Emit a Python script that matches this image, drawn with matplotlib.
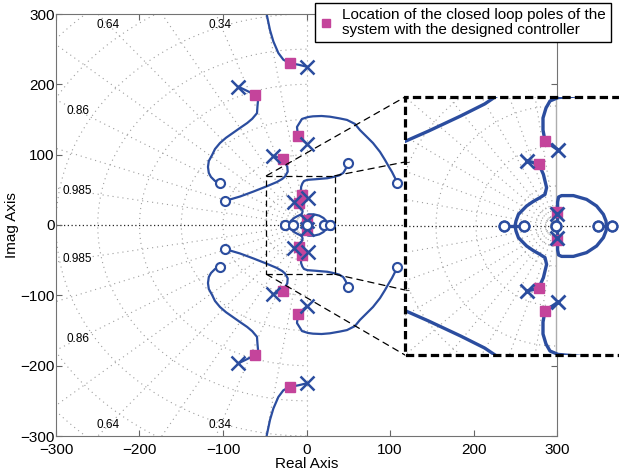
import numpy as np
import matplotlib
matplotlib.use('Agg')
import matplotlib.pyplot as plt
from matplotlib.patches import Rectangle, ConnectionPatch
from matplotlib.lines import Line2D

plt.rcParams['font.family'] = ['Liberation Sans', 'DejaVu Sans']

# ---------------- data (upper half plane; lower half is the mirror image) ----------------
branch_a_re = [0.6, -10, -19.8, -27.7, -33.7, -39.7, -43.7, -47.6, -49.5]
branch_a_im = [225, 228, 230, 235, 244.5, 261, 277, 299, 315]

branch_b_re = [-81.7, -71, -61.7, -58, -58.7, -59.3, -65, -71, -79.6, -88, -96.4, -103.6,
               -109.6, -113, -117, -118, -117, -114.4, -109.6, -103.6]
branch_b_im = [196.7, 190.6, 185, 178, 169, 159, 151, 145, 138, 131, 124, 116.6,
               108, 99.6, 91, 82.5, 74, 68.3, 62.6, 59.7]

branch_c_re = [-40.5, -34, -28.5, -23, -22.5, -25.7, -29, -35.7, -47.7, -63.7, -79.6, -89.6, -97.6]
branch_c_im = [98.6, 96, 93.9, 83, 75.8, 69, 65.5, 61, 55, 47.5, 40.5, 37, 34.6]

branch_d_re = [0.6, -5, -10.2, -11.4, -5.4, 1.8, 7.8, 18, 28, 40, 48.5, 58, 64, 72.5, 79.6,
               88, 94, 98.8, 102.4, 106, 108.4]
branch_d_im = [115.2, 121, 126.6, 139.4, 150.8, 153.5, 154.5, 155, 154, 151.5, 149.4, 143.7, 135,
               125, 116.6, 104, 92.5, 82.5, 75.4, 66.9, 59.7]

branch_e_re = [1.2, -5.5, -6.5, -6.5, -5, -3, 1, 10, 25, 33, 39, 44, 47, 49.3]
branch_e_im = [38, 42.5, 48, 54, 59, 62.5, 64.2, 65, 66.5, 68.5, 70.5, 74, 80, 87.8]

branch_f_re = [-14.7, -11.5, -8.5, -6.3, -4.7, -5.5, -8, -11.5, -14.7, -18.8, -20, -20.5]
branch_f_im = [32.5, 31.8, 30.8, 25.8, 19.2, 15.8, 14.2, 12.2, 10, 5.8, 2.5, 0]

branch_h_re = [0.8, 0.8, 0.8, 1.3, 2.8, 8.7, 15.3, 20.3, 23.7, 25, 25.2]
branch_h_im = [0, 5.8, 12, 14.5, 15.2, 15.2, 13.3, 10, 5.8, 2.5, 0]

real_seg1_re = [-26, -15.8]
real_seg2_re = [20.8, 27.8]

pole_re = [0.6, -81.7, -40.5, 0.6, 1.2, -14.7, 0.3]
pole_im = [225, 196.7, 98.6, 115.2, 38, 32.5, 5.8]

zero_re = [-103.6, -97.6, 108.4, 49.3, -26, -15.8, 20.8, 27.8, 0]
zero_im = [59.7, 34.6, 59.7, 87.8, 0, 0, 0, 0, 0]

cl_re = [-19.8, -61.7, -28.5, -10.2, -5.5, -8.5, 0.5]
cl_im = [230, 185, 93.9, 126.6, 42.5, 30.8, 7]

zeta_values = [0.985, 0.94, 0.86, 0.76, 0.64, 0.5, 0.34, 0.16]
zeta_labels = ['0.985', '0.86', '0.64', '0.34']
wn_main = [50, 100, 150, 200, 250, 300, 350, 400, 450]
wn_inset = [5, 10, 20, 40, 60, 80, 100]

ticks = [-300, -200, -100, 0, 100, 200, 300]
legend_text = 'Location of the closed loop poles of the\nsystem with the designed controller'

# zoom window shown in the main axes
zoom_x = (-48, 34)
zoom_y = (-70, 70)

BLUE = '#2b4d9f'
MAG = '#c4449b'
GRIDC = '0.62'

branches = [(branch_a_re, branch_a_im), (branch_b_re, branch_b_im), (branch_c_re, branch_c_im),
            (branch_d_re, branch_d_im), (branch_e_re, branch_e_im), (branch_f_re, branch_f_im),
            (branch_h_re, branch_h_im)]


def sgrid(a, wns, rmax):
    dots = (0, (1, 3.5))
    for z in zeta_values:
        th = np.arccos(z)
        for s in (1, -1):
            a.plot([0, -rmax * np.cos(th)], [0, s * rmax * np.sin(th)], ls=dots, color=GRIDC,
                   lw=0.8, zorder=0.5)
    t = np.linspace(np.pi / 2, 3 * np.pi / 2, 400)
    for w in wns:
        a.plot(w * np.cos(t), w * np.sin(t), ls=dots, color=GRIDC, lw=0.8, zorder=0.5)
    a.axhline(0, ls=(0, (1, 2)), color='0.15', lw=0.9, zorder=0.6)


def draw_locus(a, lw, ms_x, ms_o, ms_s, mew):
    for re, im in branches:
        re = np.asarray(re); im = np.asarray(im)
        a.plot(re, im, color=BLUE, lw=lw, solid_joinstyle='round', solid_capstyle='round', zorder=2)
        a.plot(re, -im, color=BLUE, lw=lw, solid_joinstyle='round', solid_capstyle='round', zorder=2)
    for seg in (real_seg1_re, real_seg2_re):
        a.plot(seg, [0, 0], color=BLUE, lw=lw, zorder=2)
    cre = np.asarray(cl_re); cim = np.asarray(cl_im)
    a.plot(np.r_[cre, cre], np.r_[cim, -cim], ls='none', marker='s', ms=ms_s, color=MAG,
           mec=MAG, zorder=3)
    pre = np.asarray(pole_re); pim = np.asarray(pole_im)
    a.plot(np.r_[pre, pre], np.r_[pim, -pim], ls='none', marker='x', ms=ms_x, mew=mew,
           color=BLUE, zorder=4)
    zre = np.asarray(zero_re); zim = np.asarray(zero_im)
    a.plot(np.r_[zre, zre], np.r_[zim, -zim], ls='none', marker='o', ms=ms_o, mew=mew * 0.85,
           mec=BLUE, mfc='white', zorder=4)


fig = plt.figure(figsize=(6.19, 4.76), dpi=100)

# ---------------- main axes ----------------
ax = fig.add_axes([56 / 619, 40 / 476, 501 / 619, 422 / 476])
ax.set_xlim(-300, 300)
ax.set_ylim(-300, 300)
sgrid(ax, wn_main, 600)
ax.axvline(0, ls=(0, (1, 3.5)), color=GRIDC, lw=0.8, zorder=0.5)
draw_locus(ax, lw=1.6, ms_x=10, ms_o=6.5, ms_s=6.5, mew=1.8)

for lab in zeta_labels:
    z = float(lab)
    tn = np.tan(np.arccos(z))
    if tn < 1.0:
        x = -274
        for s in (1, -1):
            ax.text(x, s * (-x * tn), lab, fontsize=8.5, ha='center', va='center', zorder=1)
    else:
        y = 285
        for s in (1, -1):
            ax.text(-y / tn, s * y, lab, fontsize=8.5, ha='center', va='center', zorder=1)

ax.add_patch(Rectangle((zoom_x[0], zoom_y[0]), zoom_x[1] - zoom_x[0], zoom_y[1] - zoom_y[0],
                       fill=False, ls=(0, (5, 3)), lw=0.9, ec='black', zorder=5))

ax.set_xticks(ticks)
ax.set_yticks(ticks)
ax.tick_params(direction='in', top=True, right=True, length=4, labelsize=11, color='0.4')
ax.tick_params(axis='y', pad=1)
ax.tick_params(axis='x', pad=5)
for sp in ax.spines.values():
    sp.set_color('0.45')
ax.set_xlabel('Real Axis', fontsize=11, labelpad=0)
ax.set_ylabel('Imag Axis', fontsize=11, labelpad=1)

# ---------------- inset ----------------
axi = fig.add_axes([405 / 619, (476 - 355) / 476, 255 / 619, 258 / 476])
axi.set_zorder(3)
axi.set_facecolor('white')
axi.set_xlim(-75.5, 52)
axi.set_ylim(-64.5, 64.5)
sgrid(axi, wn_inset, 200)
axi.axvline(0, ls='-', color='0.68', lw=1.0, zorder=0.5)
draw_locus(axi, lw=2.4, ms_x=10, ms_o=7, ms_s=7, mew=2.0)
axi.set_xticks([])
axi.set_yticks([-32, 32])
axi.set_yticklabels([])
axi.tick_params(direction='in', length=3, color='0.3')
for sp in axi.spines.values():
    sp.set_visible(False)
border = Line2D([1, 0, 0, 1], [1, 1, 0, 0], transform=axi.transAxes, color='black', lw=2.3,
                ls=(0, (2.6, 1.3)), dash_capstyle='butt', dash_joinstyle='miter',
                clip_on=False, zorder=10)
axi.add_line(border)

# connectors from the zoom window to the inset
pairs = [((zoom_x[0], zoom_y[1]), (0, 1)),
         ((zoom_x[1], zoom_y[1]), (0, (355 - 162) / 258)),
         ((zoom_x[0], zoom_y[0]), (0, 0)),
         ((zoom_x[1], zoom_y[0]), (0, (355 - 290) / 258))]
for pa, pb in pairs:
    cp = ConnectionPatch(xyA=pa, coordsA=ax.transData, xyB=pb, coordsB=axi.transAxes,
                         ls=(0, (5, 4)), lw=0.9, color='black')
    cp.set_zorder(2.5)
    fig.add_artist(cp)

# ---------------- legend ----------------
h = Line2D([], [], ls='none', marker='s', color=MAG, ms=6)
leg = fig.legend([h], [legend_text], loc='upper left', bbox_to_anchor=(315 / 619, 1 - 3 / 476),
                 fontsize=11, frameon=True, fancybox=False, edgecolor='black', framealpha=1,
                 handlelength=0.8, handletextpad=0.6, borderpad=0.35, borderaxespad=0)
for t in leg.get_texts():
    t.set_linespacing(1.05)
leg.get_frame().set_linewidth(1.0)
leg.set_zorder(10)

fig.savefig('out.png', dpi=100)
